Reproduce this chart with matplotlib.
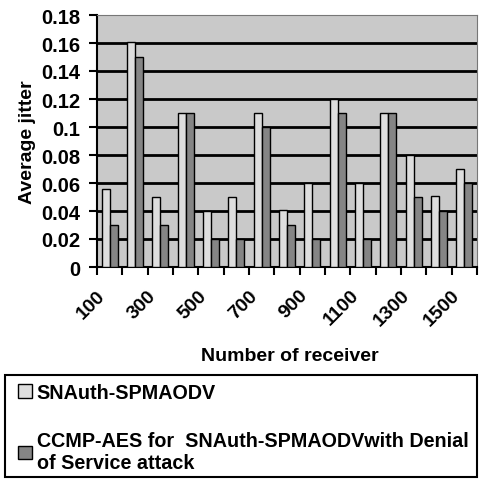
import matplotlib
matplotlib.use("Agg")
import matplotlib.pyplot as plt
import matplotlib.transforms as mtransforms
from matplotlib.patches import Rectangle
import numpy as np

receivers = [100, 200, 300, 400, 500, 600, 700, 800, 900, 1000, 1100, 1200, 1300, 1400, 1500]
snauth = [0.056, 0.161, 0.05, 0.11, 0.04, 0.05, 0.11, 0.041, 0.06, 0.12, 0.06, 0.11, 0.08, 0.051, 0.07]
ccmp_dos = [0.03, 0.15, 0.03, 0.11, 0.02, 0.02, 0.10, 0.03, 0.02, 0.11, 0.02, 0.11, 0.05, 0.04, 0.06]
yticks = [0, 0.02, 0.04, 0.06, 0.08, 0.1, 0.12, 0.14, 0.16, 0.18]
ytick_labels = ["0", "0.02", "0.04", "0.06", "0.08", "0.1", "0.12", "0.14", "0.16", "0.18"]

plt.rcParams.update({"font.family": "Liberation Sans", "font.weight": "bold"})

fig = plt.figure(figsize=(4.79, 4.81), dpi=100)
ax = fig.add_axes([97 / 479, 1 - 268 / 481, 380 / 479, 252 / 481])
ax.set_facecolor("#c9c9c9")

x = np.arange(len(receivers))
w = 0.32
b1 = ax.bar(x - w / 2, snauth, w, color="#dedede", edgecolor="black", lw=1.0,
            label="SNAuth-SPMAODV", zorder=3)
b2 = ax.bar(x + w / 2, ccmp_dos, w, color="#858585", edgecolor="black", lw=1.0,
            label="CCMP-AES for  SNAuth-SPMAODVwith Denial\nof Service attack", zorder=3)

ax.set_ylim(0, 0.18)
ax.set_xlim(-0.5, len(receivers) - 0.5)
ax.set_yticks(yticks)
ax.set_yticklabels(ytick_labels, fontsize=14.5, fontweight="bold")
for y in yticks[1:-1]:
    ax.axhline(y, color="black", lw=2, zorder=1)

# ticks at category boundaries, labels on every other category
ax.set_xticks(np.arange(len(receivers) + 1) - 0.5)
ax.set_xticklabels([])
ax.tick_params(axis="x", which="major", length=6, width=1.5, direction="out")
ax.set_xticks(x[::2], minor=True)
ax.set_xticklabels([str(r) for r in receivers[::2]], minor=True, rotation=45,
                   ha="right", va="top", rotation_mode="anchor", fontsize=14,
                   fontweight="bold")
ax.tick_params(axis="x", which="minor", length=0, pad=14)
shift = mtransforms.ScaledTranslation(-13 / 100, 0, fig.dpi_scale_trans)
for lbl in ax.get_xticklabels(minor=True):
    lbl.set_transform(lbl.get_transform() + shift)
ax.tick_params(axis="y", length=6, width=1.5, direction="out", pad=6)

ax.spines["left"].set_linewidth(1.5)
ax.spines["bottom"].set_linewidth(1.5)
ax.spines["top"].set_color("#777777")
ax.spines["right"].set_color("#777777")

ax.set_ylabel("Average jitter", fontsize=14, fontweight="bold", labelpad=4)
fig.text(290 / 479, 1 - 357 / 481, "Number of receiver", ha="center", va="center",
         fontsize=14, fontweight="bold")

# legend box drawn separately so the entries can sit further in
fig.add_artist(Rectangle((5 / 479, 3 / 481), 472 / 479, 102 / 481, transform=fig.transFigure,
                         fill=False, ec="black", lw=1.5))
fig.legend(handles=[b1, b2], loc="upper left", bbox_to_anchor=(11 / 479, 1 - 377 / 481),
           frameon=False, borderaxespad=0, handlelength=0.7, handleheight=0.7,
           handletextpad=0.25, labelspacing=1.5, borderpad=0.35,
           prop={"size": 14.2, "weight": "bold"})

fig.savefig("out.png", dpi=100)
